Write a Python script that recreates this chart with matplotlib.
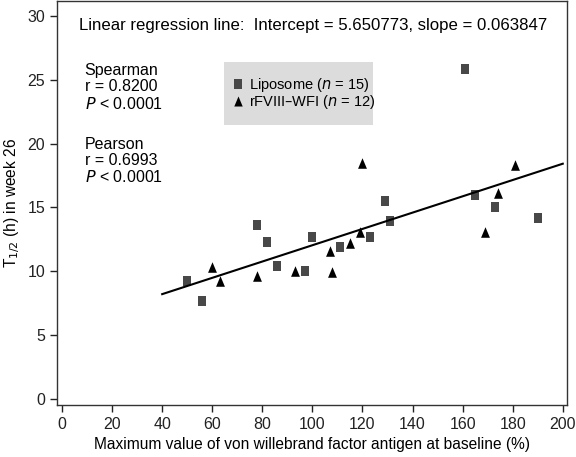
import numpy as np
import matplotlib
matplotlib.use("Agg")
import matplotlib.pyplot as plt
from matplotlib.patches import Rectangle

plt.rcParams['font.family'] = ['Liberation Sans', 'DejaVu Sans']

# Liposome group (squares)
lipo_x = [50, 56, 78, 82, 86, 97, 100, 111, 123, 129, 131, 161, 165, 173, 190]
lipo_y = [9.2, 7.7, 13.6, 12.3, 10.4, 10.0, 12.7, 11.9, 12.7, 15.5, 13.9, 25.8, 16.0, 15.0, 14.2]

# rFVIII-WFI group (triangles)
wfi_x = [60, 63, 78, 93, 107, 108, 115, 119, 120, 169, 174, 181]
wfi_y = [10.3, 9.2, 9.6, 10.0, 11.6, 9.9, 12.2, 13.1, 18.5, 13.1, 16.1, 18.3]

intercept = 5.650773
slope = 0.063847
fit_x = np.array([40, 200])

xticks = [0, 20, 40, 60, 80, 100, 120, 140, 160, 180, 200]
yticks = [0, 5, 10, 15, 20, 25, 30]

# slightly tall markers, like the original
sq = [(-0.41, -0.5), (0.41, -0.5), (0.41, 0.5), (-0.41, 0.5), (-0.41, -0.5)]
tri = [(0, 0.5), (-0.42, -0.5), (0.42, -0.5), (0, 0.5)]

fig = plt.figure(figsize=(5.76, 4.57), dpi=100)
ax = fig.add_axes([0.099, 0.114, 0.885, 0.884])

ax.plot(lipo_x, lipo_y, linestyle='none', marker=sq, color='#484848', markersize=7.6,
        markeredgewidth=0, label='Liposome ($n$ = 15)')
ax.plot(wfi_x, wfi_y, linestyle='none', marker=tri, color='black', markersize=7.6,
        markeredgewidth=0, label='rFVIII\u2013WFI ($n$ = 12)')
ax.plot(fit_x, intercept + slope * fit_x, color='black', lw=1.5)

ax.set_xlim(-2, 201.6)
ax.set_ylim(-0.47, 31.17)
ax.set_xticks(xticks)
ax.set_yticks(yticks)
ax.tick_params(direction='out', length=5, width=1, labelsize=11.5, colors='#222222')
for s in ax.spines.values():
    s.set_linewidth(1)
    s.set_color('#333333')

ax.set_xlabel('Maximum value of von willebrand factor antigen at baseline (%)', fontsize=11.2)
ax.set_ylabel('T$_{1/2}$ (h) in week 26', fontsize=11.2)

ax.text(0.043, 0.94, 'Linear regression line:  Intercept = 5.650773, slope = 0.063847',
        transform=ax.transAxes, fontsize=12.05, va='center')
ax.text(0.054, 0.846, 'Spearman\nr = 0.8200\n$P$ < 0.0001', transform=ax.transAxes,
        fontsize=11.5, va='top', linespacing=1.1)
ax.text(0.054, 0.663, 'Pearson\nr = 0.6993\n$P$ < 0.0001', transform=ax.transAxes,
        fontsize=11.5, va='top', linespacing=1.08)

ax.add_patch(Rectangle((0.327, 0.693), 0.292, 0.156, transform=ax.transAxes,
                       facecolor='#dcdcdc', edgecolor='none', zorder=0))
ax.legend(loc='center left', bbox_to_anchor=(0.343, 0.771), fontsize=10.5,
          frameon=False, handlelength=0.8, handletextpad=0.35, borderpad=0,
          borderaxespad=0, labelspacing=-0.08, markerscale=0.95)

fig.savefig('out.png', dpi=100)
